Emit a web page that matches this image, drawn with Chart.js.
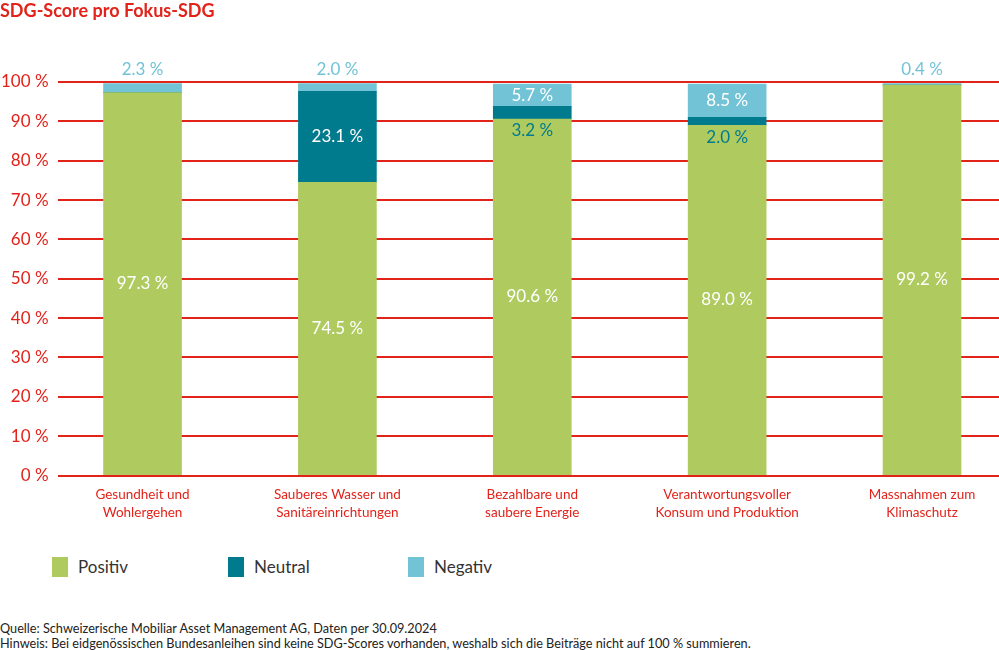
<!DOCTYPE html>
<html>
<head>
<meta charset="utf-8">
<script src="https://cdn.jsdelivr.net/npm/chart.js@4.4.1/dist/chart.umd.min.js"></script>
<style>
  body { margin: 0; background: #fff; font-family: Lato, sans-serif; }
  #wrap { position: relative; width: 999px; height: 650px; overflow: hidden; }
  #title { position: absolute; left: 0; top: -1px; font-weight: bold; font-size: 18px; color: #e2231a; }
  #chartBox { position: absolute; left: 0; top: 0; width: 999px; height: 528px; }
  #legend { position: absolute; top: 556px; left: 52px; font-size: 17px; color: #333; }
  #legend span.item { position: absolute; white-space: nowrap; }
  #legend i { display: inline-block; width: 16px; height: 20px; vertical-align: -4px; margin-right: 10px; }
  .note { position: absolute; left: 0; font-size: 12.7px; color: #222; white-space: nowrap; }
</style>
</head>
<body>
<div id="wrap">
  <div id="chartBox"><canvas id="chart"></canvas></div>
  <div id="title">SDG-Score pro Fokus-SDG</div>
  <div id="legend"></div>
  <div class="note" style="top:620px">Quelle: Schweizerische Mobiliar Asset Management AG, Daten per 30.09.2024</div>
  <div class="note" style="top:635px">Hinweis: Bei eidgenössischen Bundesanleihen sind keine SDG-Scores vorhanden, weshalb sich die Beiträge nicht auf 100 % summieren.</div>
</div>
<script>
const categories = [
  ["Gesundheit und", "Wohlergehen"],
  ["Sauberes Wasser und", "Sanitäreinrichtungen"],
  ["Bezahlbare und", "saubere Energie"],
  ["Verantwortungsvoller", "Konsum und Produktion"],
  ["Massnahmen zum", "Klimaschutz"]
];
const positiv = [97.3, 74.5, 90.6, 89.0, 99.2];
const neutral = [0, 23.1, 3.2, 2.0, 0];
const negativ = [2.3, 2.0, 5.7, 8.5, 0.4];
const seriesNames = ["Positiv", "Neutral", "Negativ"];
const colors = ["#afcb5f", "#007b8d", "#72c3d6"];
const red = "#e2231a";

// legend in html
const legend = document.getElementById("legend");
const legendX = [0, 176, 356];
seriesNames.forEach((name, i) => {
  const s = document.createElement("span");
  s.className = "item";
  s.style.left = legendX[i] + "px";
  s.innerHTML = '<i style="background:' + colors[i] + '"></i>' + name;
  legend.appendChild(s);
});

const fmt = (v) => v.toFixed(1) + " %";

// draws the value labels on the segments
const valueLabels = {
  id: "valueLabels",
  afterDatasetsDraw(chart) {
    const ctx = chart.ctx;
    ctx.save();
    ctx.font = "17px Lato";
    ctx.textAlign = "center";
    ctx.textBaseline = "middle";
    chart.data.datasets.forEach((ds, di) => {
      const meta = chart.getDatasetMeta(di);
      meta.data.forEach((bar, i) => {
        const v = ds.data[i].y;
        if (!v) return;
        const top = bar.y, bottom = bar.base;
        const h = bottom - top;
        let y, col = "#fff";
        if (h > 16) {
          y = (top + bottom) / 2;
        } else if (di === 2) {
          y = top - 14;
          col = colors[2];
        } else {
          y = bottom + 12;
          col = colors[1];
        }
        ctx.fillStyle = col;
        ctx.fillText(fmt(v), bar.x, y);
      });
    });
    ctx.restore();
  }
};

const toPoints = (arr) => arr.map((v, i) => ({ x: i, y: v }));

new Chart(document.getElementById("chart"), {
  type: "bar",
  data: {
    datasets: [positiv, neutral, negativ].map((arr, i) => ({
      label: seriesNames[i],
      data: toPoints(arr),
      backgroundColor: colors[i],
      barThickness: 78,
      borderWidth: 0
    }))
  },
  options: {
    responsive: true,
    maintainAspectRatio: false,
    animation: false,
    layout: { padding: { top: 82, right: 0, left: -8, bottom: 4 } },
    plugins: { legend: { display: false }, tooltip: { enabled: false } },
    scales: {
      x: {
        type: "linear",
        stacked: true,
        offset: false,
        min: -0.436,
        max: 4.395,
        afterBuildTicks: (scale) => { scale.ticks = [0, 1, 2, 3, 4].map((v) => ({ value: v })); },
        grid: { display: false },
        border: { display: false },
        ticks: {
          autoSkip: false,
          maxRotation: 0,
          padding: 2,
          color: red,
          font: { family: "Lato", size: 13.5, lineHeight: 1.35 },
          callback: (v) => categories[v]
        }
      },
      y: {
        stacked: true,
        min: 0,
        max: 100,
        grid: { color: red, lineWidth: 2, drawTicks: false },
        border: { display: false },
        ticks: {
          stepSize: 10,
          padding: 9,
          color: red,
          font: { family: "Lato", size: 17 },
          callback: (v) => v + " %"
        }
      }
    }
  },
  plugins: [valueLabels]
});
</script>
</body>
</html>
